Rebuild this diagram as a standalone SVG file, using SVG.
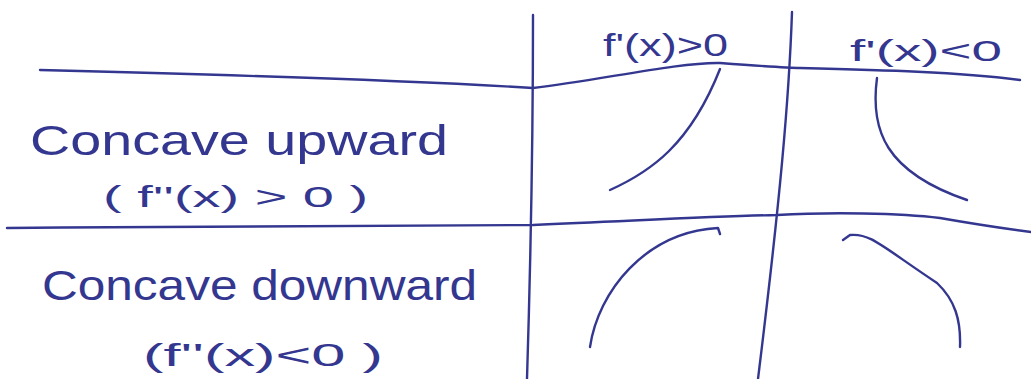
<svg xmlns="http://www.w3.org/2000/svg" width="1031" height="379" viewBox="0 0 1031 379">
<style>
.ink{fill:none;stroke:#34378f;stroke-width:2.4;stroke-linecap:round;stroke-linejoin:round}
.txt{fill:#34378f;font-family:"Liberation Sans","DejaVu Sans",sans-serif}
</style>
<rect width="1031" height="379" fill="#ffffff"/>
<g id="grid" class="ink">
<path d="M533,15 C533,120 531,250 527,379"/>
<path d="M792,12 C789,100 780,200 758,379"/>
<path d="M40,70 C200,74 400,80 533,88 C600,80 680,62 720,63 C760,66 790,68 800,68 C880,70 960,72 1020,80"/>
<path d="M7,228 C200,226 400,226 533,225 C650,220 720,216 777,215 C830,212 900,213 940,218 C980,225 1000,228 1031,232"/>
</g>
<g id="header-fprime-pos"><text class="txt" x="603" y="56" font-size="32" textLength="125" lengthAdjust="spacingAndGlyphs">f'(x)&gt;0</text></g>
<g id="header-fprime-neg"><text class="txt" x="850" y="61" font-size="30" textLength="152" lengthAdjust="spacingAndGlyphs">f'(x)&lt;0</text></g>
<g id="row-up-label">
<text class="txt" x="30" y="155" font-size="42" textLength="418" lengthAdjust="spacingAndGlyphs">Concave upward</text>
<text class="txt" x="103" y="207" font-size="30" textLength="265" lengthAdjust="spacingAndGlyphs">( f''(x) &gt; 0 )</text>
</g>
<g id="row-down-label">
<text class="txt" x="42" y="300" font-size="42" textLength="435" lengthAdjust="spacingAndGlyphs">Concave downward</text>
<text class="txt" x="143" y="366" font-size="32" textLength="240" lengthAdjust="spacingAndGlyphs">(f''(x)&lt;0 )</text>
</g>
<g id="curve-up-inc" class="ink"><path d="M610,190 C650,172 690,145 720,69"/></g>
<g id="curve-up-dec" class="ink"><path d="M877,78 C870,130 885,172 967,200"/></g>
<g id="curve-down-inc" class="ink"><path d="M590,347 C598,292 645,232 718,228 L720,234"/></g>
<g id="curve-down-dec" class="ink"><path d="M843,240 L850,235 C870,233 880,245 937,283 C955,300 961,320 960,347"/></g>
</svg>
